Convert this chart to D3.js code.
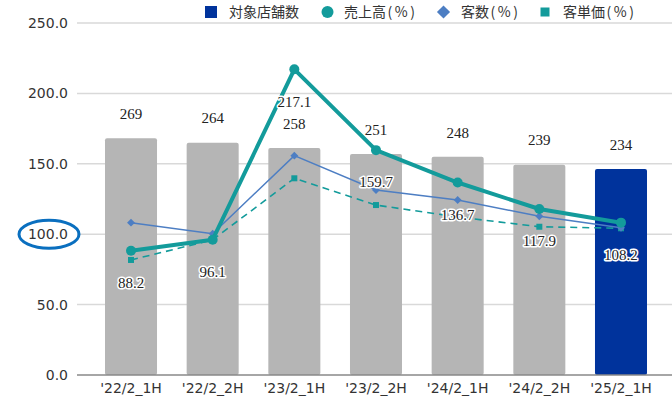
<!DOCTYPE html>
<html><head><meta charset="utf-8">
<script src="https://cdn.jsdelivr.net/npm/d3@7"></script>
<style>
html,body{margin:0;padding:0;background:#fff;}
svg{display:block;}
</style>
</head><body>
<svg id="c" width="672" height="406"></svg>
<script>
const categories = ["'22/2_1H","'22/2_2H","'23/2_1H","'23/2_2H","'24/2_1H","'24/2_2H","'25/2_1H"];
const storeCounts = [269, 264, 258, 251, 248, 239, 234];
const salesPct = [88.2, 96.1, 217.1, 159.7, 136.7, 117.9, 108.2];
const customersPct = [108.2, 100.3, 155.8, 131.4, 124.3, 112.7, 104.6];
const unitPricePct = [81.7, 96.0, 139.7, 120.7, 112.2, 105.3, 104.2];
const yTicks = [0, 50, 100, 150, 200, 250];
const legendLabels = ["対象店舗数", "売上高", "客数", "客単価"];
const legendSuffix = ["", "(%)", "(%)", "(%)"];

const svg = d3.select("#c");
const TEAL = "#139b9b", BLUE = "#4d7ec3", NAVY = "#00339c", GRAY = "#b5b5b5";
const SANS = "'DejaVu Sans', sans-serif";
const SERIF = "'Liberation Serif', 'Times New Roman', serif";
const CJK = "'Noto Sans CJK JP', 'Noto Sans', sans-serif";

const x = d3.scaleBand().domain(categories).range([90.17, 661.83])
  .paddingInner(0.363).paddingOuter(0.1815);
const y = d3.scaleLinear().domain([0, 250]).range([375, 23]);
const y2 = d3.scaleLinear().domain([0, 400]).range([375, 23]);
const cx = d => x(d) + x.bandwidth() / 2;

// gridlines
svg.append("g").selectAll("line").data(yTicks.filter(t => t > 0)).join("line")
  .attr("x1", 77).attr("x2", 672).attr("y1", d => y(d)).attr("y2", d => y(d))
  .attr("stroke", "#d9d9d9").attr("stroke-width", 1.5);

// y axis labels
const yAxis = d3.axisLeft(y).tickValues(yTicks).tickFormat(d3.format(".1f")).tickSize(0).tickPadding(0);
const ya = svg.append("g").attr("transform", "translate(68,0)").call(yAxis);
ya.select(".domain").remove();
ya.selectAll("text").attr("font-family", SANS).attr("font-size", 14).attr("fill", "#333");

// bars
svg.append("g").selectAll("rect").data(categories).join("rect")
  .attr("x", d => x(d)).attr("width", x.bandwidth())
  .attr("y", (d, i) => y2(storeCounts[i]))
  .attr("height", (d, i) => y2(0) - y2(storeCounts[i]))
  .attr("rx", 2)
  .attr("fill", (d, i) => i === categories.length - 1 ? NAVY : GRAY);

// baseline
svg.append("line").attr("x1", 77).attr("x2", 672).attr("y1", y(0)).attr("y2", y(0))
  .attr("stroke", "#888").attr("stroke-width", 1.5);

// x axis labels
const xAxis = d3.axisBottom(x).tickSize(0).tickPadding(0);
const xa = svg.append("g").attr("transform", "translate(0,383)").call(xAxis);
xa.select(".domain").remove();
xa.selectAll("text").attr("font-family", SANS).attr("font-size", 14).attr("fill", "#333");

// bar labels
svg.append("g").selectAll("text").data(categories).join("text")
  .attr("x", d => cx(d)).attr("y", (d, i) => y2(storeCounts[i]) - 24.5)
  .attr("dy", "0.35em").attr("text-anchor", "middle")
  .attr("font-family", SERIF).attr("font-size", 15).attr("fill", "#222")
  .text((d, i) => storeCounts[i]);

const line = d3.line().x(d => cx(d[0])).y(d => y(d[1]));

// unit price dashed
svg.append("path").datum(categories.map((c, i) => [c, unitPricePct[i]]))
  .attr("d", line).attr("fill", "none").attr("stroke", TEAL)
  .attr("stroke-width", 1.6).attr("stroke-dasharray", "7,5");
svg.append("g").selectAll("rect").data(categories).join("rect")
  .attr("x", d => cx(d) - 3).attr("y", (d, i) => y(unitPricePct[i]) - 3)
  .attr("width", 6).attr("height", 6).attr("fill", TEAL);

// customers line
svg.append("path").datum(categories.map((c, i) => [c, customersPct[i]]))
  .attr("d", line).attr("fill", "none").attr("stroke", BLUE).attr("stroke-width", 1.5);
svg.append("g").selectAll("path").data(categories).join("path")
  .attr("d", d3.symbol(d3.symbolDiamond2, 40))
  .attr("transform", (d, i) => `translate(${cx(d)},${y(customersPct[i])})`)
  .attr("fill", BLUE);

// sales line
svg.append("path").datum(categories.map((c, i) => [c, salesPct[i]]))
  .attr("d", line).attr("fill", "none").attr("stroke", TEAL).attr("stroke-width", 4)
  .attr("stroke-linejoin", "round");
svg.append("g").selectAll("circle").data(categories).join("circle")
  .attr("cx", d => cx(d)).attr("cy", (d, i) => y(salesPct[i])).attr("r", 5)
  .attr("fill", TEAL);

// sales labels with white halo
svg.append("g").selectAll("text").data(categories).join("text")
  .attr("x", d => cx(d)).attr("y", (d, i) => y(salesPct[i]) + 32)
  .attr("dy", "0.35em").attr("text-anchor", "middle")
  .attr("font-family", SERIF).attr("font-size", 15)
  .attr("fill", "#222").attr("stroke", "#fff").attr("stroke-width", 3)
  .attr("paint-order", "stroke").attr("stroke-linejoin", "round")
  .text((d, i) => salesPct[i].toFixed(1));

// annotation ellipse
svg.append("ellipse").attr("cx", 49).attr("cy", y(100)).attr("rx", 30).attr("ry", 14)
  .attr("fill", "none").attr("stroke", "#0a6fbf").attr("stroke-width", 3);

// legend
const lg = svg.append("g");
const ly = 12;
lg.append("rect").attr("x", 205).attr("y", ly - 6).attr("width", 12).attr("height", 12).attr("fill", NAVY);
lg.append("circle").attr("cx", 327.5).attr("cy", ly).attr("r", 6).attr("fill", TEAL);
lg.append("path").attr("d", d3.symbol(d3.symbolDiamond2, 110)).attr("transform", `translate(443.5,${ly})`).attr("fill", BLUE);
lg.append("rect").attr("x", 540.5).attr("y", ly - 4.5).attr("width", 9).attr("height", 9).attr("fill", TEAL);
const lx = [229, 344, 461, 563];
const lt = lg.selectAll("text").data(legendLabels).join("text")
  .attr("x", (d, i) => lx[i]).attr("y", ly).attr("dy", "0.35em")
  .attr("font-family", CJK).attr("font-size", 14).attr("fill", "#333");
lt.append("tspan").text(d => d);
lt.append("tspan").attr("dx", 1.5).attr("letter-spacing", 2.5).text((d, i) => legendSuffix[i]);
</script>
</body></html>
